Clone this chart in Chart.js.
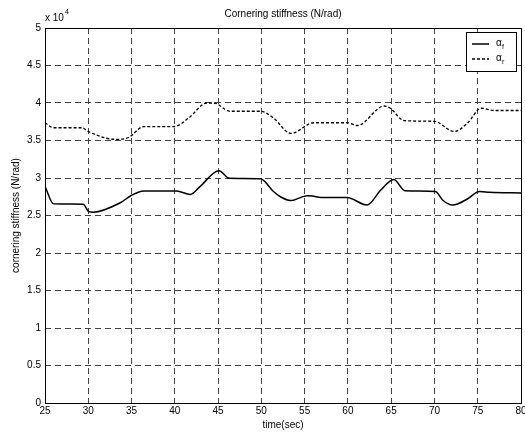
<!DOCTYPE html>
<html>
<head>
<meta charset="utf-8">
<script src="https://cdn.jsdelivr.net/npm/chart.js@4.4.1/dist/chart.umd.min.js"></script>
<style>
  html, body { margin: 0; padding: 0; background: #fff; }
  #wrap { width: 525px; height: 432px; }
</style>
</head>
<body>
<div id="wrap"><canvas id="myChart" width="525" height="432"></canvas></div>
<script>
// stiffness values are in units of 10^4 N/rad
const frontTime = [25, 26, 29.4, 30.1, 30.6, 33.7, 35, 36.4, 40.2, 41.8, 42.9, 45.1, 46.3, 49.9, 51.4, 52.2, 53.4, 55.3, 55.9, 56.9, 59.9, 62.2, 63.8, 65.3, 66.6, 70.1, 71, 72.1, 73.8, 75.2, 76.4, 80];
const frontStiff = [2.89, 2.655, 2.65, 2.55, 2.545, 2.67, 2.77, 2.827, 2.827, 2.78, 2.885, 3.097, 2.996, 2.99, 2.82, 2.75, 2.70, 2.765, 2.76, 2.74, 2.74, 2.64, 2.84, 2.98, 2.83, 2.82, 2.70, 2.64, 2.72, 2.82, 2.81, 2.80];

const rearTime = [25, 26, 29.25, 30, 32.1, 33.3, 34.65, 36.4, 39.9, 41.6, 43.7, 44.5, 46.4, 49.9, 51.4, 53.4, 56.1, 59.9, 61.1, 64.2, 64.9, 66.5, 70, 72.3, 73.8, 75.4, 76.9, 80];
const rearStiff = [3.737, 3.67, 3.67, 3.62, 3.53, 3.516, 3.54, 3.685, 3.685, 3.80, 4.00, 4.00, 3.89, 3.89, 3.80, 3.595, 3.737, 3.737, 3.70, 3.96, 3.93, 3.765, 3.755, 3.62, 3.73, 3.93, 3.90, 3.90];

const xTicks = [25, 30, 35, 40, 45, 50, 55, 60, 65, 70, 75, 80];
const legendNames = ['f', 'r'];

Chart.defaults.font.family = '"Liberation Sans", Arial, sans-serif';
Chart.defaults.font.size = 10;
Chart.defaults.color = '#000';

const toPoints = (xs, ys) => xs.map((x, i) => ({x: x, y: ys[i]}));
// same pixel snapping chart.js uses for 1px grid lines
const snap = p => Math.round(p - 0.5) + 0.5;

// box, exponent and legend drawn like the matlab figure
const matlabBits = {
  id: 'matlabBits',
  afterDatasetsDraw(chart) {
    const c = chart.ctx;
    const a = chart.chartArea;
    const x1 = snap(a.left), x2 = snap(a.right), y1 = snap(a.top), y2 = snap(a.bottom);
    c.save();
    c.strokeStyle = '#000';
    c.lineWidth = 1;
    c.setLineDash([]);
    c.strokeRect(x1, y1, x2 - x1, y2 - y1);

    // title
    c.fillStyle = '#000';
    c.font = '10px "Liberation Sans", Arial, sans-serif';
    c.textAlign = 'center';
    c.textBaseline = 'middle';
    c.fillText('Cornering stiffness (N/rad)', (a.left + a.right) / 2, 14);

    // x 10^4
    c.textAlign = 'left';
    c.fillText('x 10', a.left, 18);
    c.font = '7px "Liberation Sans", Arial, sans-serif';
    c.fillText('4', a.left + 20, 12);

    // legend
    const bx = 466, by = 32, bw = 50, bh = 39;
    c.fillStyle = '#fff';
    c.fillRect(bx, by, bw, bh);
    c.strokeRect(bx + 0.5, by + 0.5, bw, bh);
    const rows = [44, 59];
    rows.forEach((yy, i) => {
      c.beginPath();
      c.lineWidth = i === 0 ? 1.5 : 1.3;
      c.setLineDash(i === 0 ? [] : [3, 2]);
      c.moveTo(472, yy);
      c.lineTo(489, yy);
      c.stroke();
      c.setLineDash([]);
      c.fillStyle = '#000';
      c.font = '10px "Liberation Sans", Arial, sans-serif';
      c.fillText('\u03b1', 496, yy - 1);
      c.font = '7px "Liberation Sans", Arial, sans-serif';
      c.fillText(legendNames[i], 502, yy + 3);
    });
    c.restore();
  }
};

const ctx = document.getElementById('myChart').getContext('2d');

const data = {
  datasets: [
    {
      label: 'alpha_f',
      data: toPoints(frontTime, frontStiff),
      borderColor: '#000',
      borderWidth: 1.5,
      pointRadius: 0,
      fill: false,
      cubicInterpolationMode: 'monotone',
    },
    {
      label: 'alpha_r',
      data: toPoints(rearTime, rearStiff),
      borderColor: '#000',
      borderWidth: 1.3,
      borderDash: [3, 2],
      pointRadius: 0,
      fill: false,
      cubicInterpolationMode: 'monotone',
    },
  ],
};

const config = {
  type: 'line',
  data: data,
  options: {
    responsive: false,
    animation: false,
    layout: { padding: { left: 0, right: 4, top: 28, bottom: 0 } },
    plugins: {
      legend: { display: false },
      tooltip: { enabled: false },
    },
    scales: {
      x: {
        type: 'linear',
        min: 25,
        max: 80,
        afterBuildTicks: (scale) => { scale.ticks = xTicks.map(v => ({value: v})); },
        afterFit: (scale) => { scale.height = 29; scale.paddingRight = 0; scale.paddingLeft = 0; },
        ticks: { padding: 2, maxRotation: 0, autoSkip: false },
        grid: { color: '#444', lineWidth: 1, drawTicks: false },
        border: { display: false, dash: [6, 4] },
        title: { display: true, text: 'time(sec)', padding: { top: 0, bottom: 1 } },
      },
      y: {
        min: 0,
        max: 5,
        afterFit: (scale) => { scale.width = 45; },
        ticks: { stepSize: 0.5, padding: 4, callback: v => String(v) },
        grid: { color: '#444', lineWidth: 1, drawTicks: false },
        border: { display: false, dash: [6, 4] },
        title: { display: true, text: 'cornering stiffness (N/rad)', padding: { top: 10, bottom: 0 } },
      },
    },
  },
  plugins: [matlabBits],
};

const myChart = new Chart(ctx, config);
</script>
</body>
</html>
